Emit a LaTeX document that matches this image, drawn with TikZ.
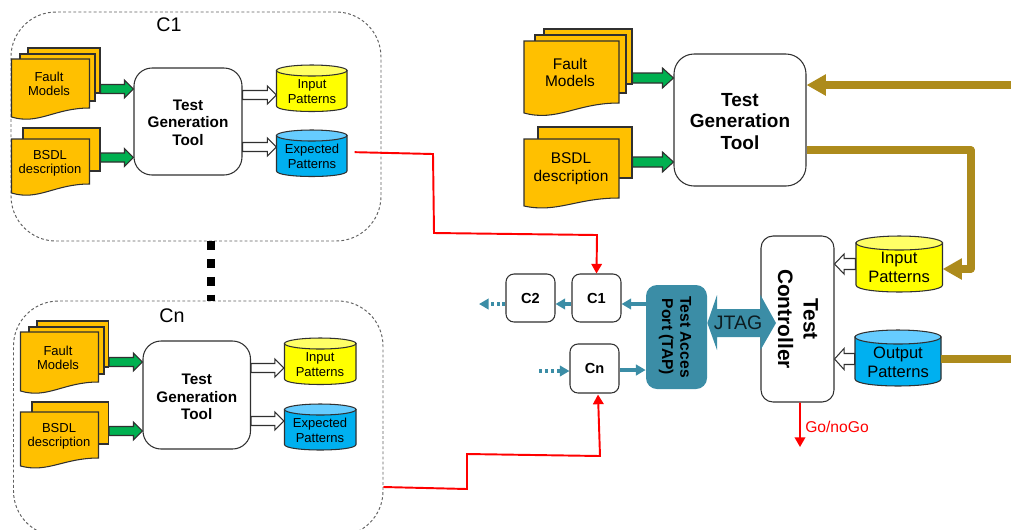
\documentclass[tikz,border=0pt]{standalone}
\usepackage{fontspec}
\setmainfont{Liberation Sans}
\usetikzlibrary{calc,arrows.meta}
\usepackage{xcolor}

\definecolor{pageorange}{HTML}{FFC000}
\definecolor{arrowgreen}{HTML}{00B050}
\definecolor{cylyellow}{HTML}{FFFF00}
\definecolor{cylyellowtop}{HTML}{FFFF66}
\definecolor{cylblue}{HTML}{00B0F0}
\definecolor{cylbluetop}{HTML}{66CCFF}
\definecolor{busgold}{HTML}{AD8B1C}
\definecolor{jtagteal}{HTML}{3B8DA6}
\definecolor{outline}{HTML}{303030}

\tikzset{
  sized/.style 2 args={minimum width=#1*0.02cm,minimum height=#2*0.02cm,inner sep=0pt},
  corebox/.style={draw=gray!75!black,line width=0.55pt,dash pattern=on 1.6pt off 1.3pt,rounded corners=0.9cm},
  pagebox/.style={draw=outline,line width=0.6pt,fill=pageorange},
  toolbox/.style={draw=outline,line width=0.6pt,fill=white,rounded corners=#1*0.02cm},
  smalltext/.style={align=center,font=\fontsize{7.4}{8}\selectfont},
  bigtext/.style={align=center,font=\fontsize{8.8}{10}\selectfont},
  cyltext/.style={align=center,font=\fontsize{7.4}{8.6}\selectfont},
  cylbigtext/.style={align=center,font=\fontsize{9.4}{10.8}\selectfont},
  tooltext/.style={align=center,font=\fontsize{8.7}{10}\selectfont\bfseries},
  toolbigtext/.style={align=center,font=\fontsize{10.8}{12.2}\selectfont\bfseries},
  chiptext/.style={font=\fontsize{8.3}{10}\selectfont\bfseries},
  redline/.style={draw=red,line width=1.1pt,-{Triangle[length=5.5pt,width=6pt]}},
  busline/.style={draw=busgold,line width=4pt,line join=round},
  bustip/.style={-{Triangle[length=11pt,width=11.5pt]}},
  tealline/.style={draw=jtagteal,line width=2pt,-{Triangle[length=5.5pt,width=6pt]}},
  tealdots/.style={tealline,dash pattern=on 1.7pt off 1.7pt},
}

% page with a wavy lower edge: x1, y1, x2, y right, y left
\newcommand\wavypage[5]{
  \draw[pagebox] (#1,#2) -- (#3,#2) -- (#3,#4)
    .. controls ({#3-0.45*(#3-#1)},#4) and ({#1+0.35*(#3-#1)},{#5+0.9*(#5-#4)}) .. (#1,#5) -- cycle;
}
% x1, y top, x2, y bottom, y radius, body colour, top colour
\newcommand\cylshape[7]{
  \draw[draw=outline,line width=0.6pt,fill=#6] (#1,{#2+#5}) -- (#1,{#4-#5})
    .. controls (#1,{#4+0.33*#5}) and (#3,{#4+0.33*#5}) .. (#3,{#4-#5}) -- (#3,{#2+#5}) -- cycle;
  \draw[draw=outline,line width=0.6pt,fill=#7] ({(#1+#3)/2},{#2+#5}) ellipse ({(#3-#1)/2} and #5);
}
% fill, from node, to node, y, half shaft, half head, head length
\newcommand\blockarrow[7]{
  \coordinate (arrowa) at (#2 |- 0,#4);
  \coordinate (arrowb) at (#3 |- 0,#4);
  \coordinate (arrowh) at ($(arrowb)!#7*0.02cm!(arrowa)$);
  \draw[draw=outline,line width=0.6pt,fill=#1] ([yshift=#5*0.02cm]arrowa) -- ([yshift=#5*0.02cm]arrowh)
    -- ([yshift=#6*0.02cm]arrowh) -- (arrowb) -- ([yshift=-#6*0.02cm]arrowh)
    -- ([yshift=-#5*0.02cm]arrowh) -- ([yshift=-#5*0.02cm]arrowa) -- cycle;
}

\begin{document}
\begin{tikzpicture}[x=0.02cm,y=-0.02cm]
\clip (0,0) rectangle (1011,529);

% core C1
\node[corebox,sized={370}{229}] (coreone) at(196,126.5){};
\node at(169,25)[font=\fontsize{11.2}{13}\selectfont]{C1};
\node[pagebox,sized={72}{45}] (fm1c) at(64,70.5){};
\node[pagebox,sized={75}{47}] (fm1b) at(57.5,77.5){};
\wavypage{11.5}{59}{89.5}{108}{117}
\node (fm1) at(49,84)[smalltext]{Fault\\Models};
\node[pagebox,sized={77}{43}] (bs1b) at(61.5,149.5){};
\wavypage{11.5}{139}{89.5}{184}{193}
\node (bs1) at(50,163.5)[smalltext]{BSDL\\description};
\node[toolbox=18,sized={108}{107}] (tg1) at(188,121.5){};
\node (tg1t) at(188,122.5)[tooltext]{Test\\Generation\\Tool};
\blockarrow{arrowgreen}{fm1c.east}{tg1.west}{89}{4.5}{9}{9}
\blockarrow{arrowgreen}{bs1b.east}{tg1.west}{157.5}{4.5}{9}{9}
\cylshape{276.5}{65}{347}{111.5}{5.5}{cylyellow}{cylyellowtop}
\node[cyltext,sized={70.5}{30}] (ip1) at(312,91.5){Input\\Patterns};
\cylshape{276.5}{130}{347}{176.5}{5.5}{cylblue}{cylbluetop}
\node[cyltext,sized={70.5}{30}] (ep1) at(312,156.5){Expected\\Patterns};
\blockarrow{white}{tg1.east}{ip1.west}{95}{4.5}{9}{9}
\blockarrow{white}{tg1.east}{ep1.west}{147}{4.5}{9}{9}

% core Cn
\node[corebox,sized={369.5}{235}] (coren) at(198.25,418.5){};
\node at(172,316)[font=\fontsize{11.2}{13}\selectfont]{Cn};
\draw[line width=4.9pt,dash pattern=on 4.9pt off 5.2pt] (coreone.south -| 211,0) -- (coren.north -| 211,0);
\node[pagebox,sized={71.5}{46}] (fm2c) at(72.75,344){};
\node[pagebox,sized={75}{47}] (fm2b) at(66.5,350.5){};
\wavypage{20.5}{332}{98.5}{382}{391}
\node (fm2) at(58,358)[smalltext]{Fault\\Models};
\node[pagebox,sized={76.5}{42}] (bs2b) at(70.25,423){};
\wavypage{20.5}{412}{98.5}{458}{466}
\node (bs2) at(59,436)[smalltext]{BSDL\\description};
\node[toolbox=18,sized={107.5}{108}] (tg2) at(196.75,395){};
\node (tg2t) at(196.75,397)[tooltext]{Test\\Generation\\Tool};
\blockarrow{arrowgreen}{fm2c.east}{tg2.west}{362}{4.5}{9}{9}
\blockarrow{arrowgreen}{bs2b.east}{tg2.west}{431}{4.5}{9}{9}
\cylshape{284.5}{338}{356}{384.5}{5.5}{cylyellow}{cylyellowtop}
\node[cyltext,sized={71.5}{30}] (ip2) at(320,364.5){Input\\Patterns};
\cylshape{284.5}{404}{356}{450}{5.5}{cylblue}{cylbluetop}
\node[cyltext,sized={71.5}{30}] (ep2) at(320,430.5){Expected\\Patterns};
\blockarrow{white}{tg2.east}{ip2.west}{368}{4.5}{9}{9}
\blockarrow{white}{tg2.east}{ep2.west}{421}{4.5}{9}{9}

% tester side
\node[pagebox,sized={88}{55}] (fm3c) at(588,56.5){};
\node[pagebox,sized={91}{58}] (fm3b) at(580.5,64){};
\wavypage{524}{41}{619}{103}{113}
\node (fm3) at(570,72.5)[bigtext]{Fault\\Models};
\node[pagebox,sized={94}{51}] (bs3b) at(585,152.5){};
\wavypage{524}{139}{619}{198}{206}
\node (bs3) at(571,168.5)[bigtext]{BSDL\\description};
\node[toolbox=20,sized={132}{132}] (tg3) at(740,120){};
\node (tg3t) at(740,121.5)[toolbigtext]{Test\\Generation\\Tool};
\blockarrow{arrowgreen}{fm3c.east}{tg3.west}{78}{5}{10}{11}
\blockarrow{arrowgreen}{bs3b.east}{tg3.west}{162}{5}{10}{11}

\node[toolbox=12,sized={73}{166}] (ctrl) at(797.5,319){};
\node (ctrlt) at(798,319)[rotate=-90,toolbigtext,font=\fontsize{11.9}{14.6}\selectfont\bfseries]{Test\\Controller};
\cylshape{856}{236}{942.5}{292}{7}{cylyellow}{cylyellowtop}
\node[cylbigtext,sized={86.5}{35}] (ip3) at(899,267.5){Input\\Patterns};
\cylshape{855}{330}{941}{386}{7}{cylblue}{cylbluetop}
\node[cylbigtext,sized={86}{35}] (op3) at(898,362.5){Output\\Patterns};
\blockarrow{white}{ip3.west}{ctrl.east}{264}{5.5}{10}{9.5}
\blockarrow{white}{op3.west}{ctrl.east}{359}{5.5}{10.5}{9.5}

% scan chain
\node[toolbox=8,sized={49}{48}] (c2) at(530.5,298){};
\node at(c2)[chiptext]{C2};
\node[toolbox=8,sized={49}{48}] (c1) at(596.5,298){};
\node at(c1)[chiptext]{C1};
\node[toolbox=8,sized={49}{49}] (cn) at(594.5,368.5){};
\node at(cn)[chiptext]{Cn};
\node[fill=jtagteal,rounded corners=0.22cm,sized={61}{104}] (tap) at(676.5,337){};
\node (tapt) at(675,337)[rotate=-90,tooltext,font=\fontsize{8.9}{10.4}\selectfont\bfseries]{Test Acces\\Port (TAP)};
\coordinate (chainout) at (479,304);
\coordinate (chainin) at (539,371);
\draw[tealline] (tap.west |- 0,304) -- (c1.east |- 0,304);
\draw[tealline] (c1.west |- 0,304) -- (c2.east |- 0,304);
\draw[tealdots] (c2.west |- 0,304) -- (chainout);
\draw[tealline] (cn.east |- 0,370) -- (tap.west |- 0,370);
\draw[tealdots] (chainin) -- (cn.west |- chainin);
\fill[jtagteal] (tap.east |- 0,323) -- (717,295) -- (717,309) -- (ctrl.west |- 0,309) -- (ctrl.west |- 0,295)
  -- (776,323) -- (ctrl.west |- 0,350) -- (ctrl.west |- 0,337) -- (717,337) -- (717,350) -- cycle;
\node (jtag) at(738,323)[font=\fontsize{11.1}{13}\selectfont,text=black!80!jtagteal]{JTAG};

% tester buses
\coordinate (busin) at (1011,85);
\coordinate (busout) at (1011,359);
\draw[busline,bustip] (busin) -- (tg3.east |- busin);
\draw[busline,bustip] (tg3.east |- 0,150) -- (971,150) -- (971,269) -- (ip3.east |- 0,269);
\draw[busline] (op3.east |- busout) -- (busout);

% red links
\draw[redline,shorten <=0.14cm] (ep1.east |- 0,152) -- (433,154) -- (434,233) -- (597,235) -- (c1.north);
\draw[redline] (coren.east |- 0,487) -- (467,489) -- (467,454) -- (600,456) -- ($(cn.south)+(3.5,1)$);
\coordinate (gotip) at (800,447);
\draw[redline] ($(ctrl.south)+(2.5,0)$) -- (gotip);
\node (gonogo) at(837,427)[font=\fontsize{8.9}{10}\selectfont,text=red]{Go/noGo};
\end{tikzpicture}
\end{document}
